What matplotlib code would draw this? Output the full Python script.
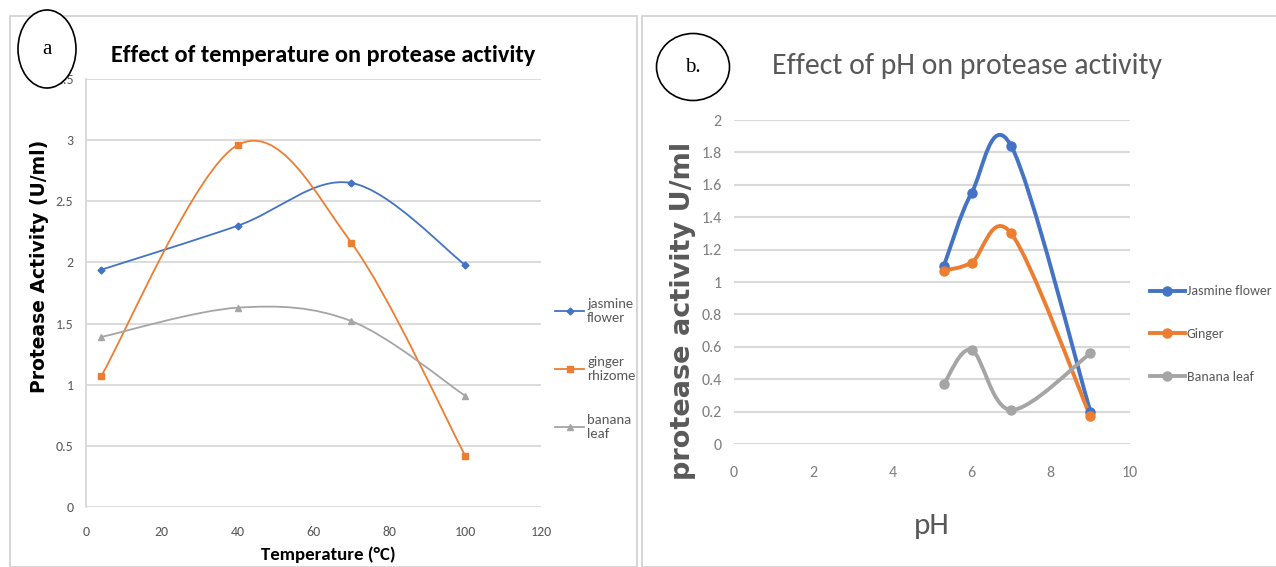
import matplotlib
matplotlib.use("Agg")
import matplotlib.pyplot as plt
from matplotlib.path import Path
from matplotlib.patches import PathPatch, Ellipse, Rectangle
from matplotlib.lines import Line2D

# panel a - temperature
temp = [4, 40, 70, 100]
temp_jasmine = [1.94, 2.30, 2.65, 1.98]
temp_ginger = [1.07, 2.96, 2.16, 0.42]
temp_banana = [1.39, 1.63, 1.52, 0.91]
temp_labels = ["jasmine\nflower", "ginger\nrhizome", "banana\nleaf"]

# panel b - pH
ph = [5.3, 6, 7, 9]
ph_jasmine = [1.10, 1.55, 1.84, 0.20]
ph_ginger = [1.07, 1.12, 1.30, 0.17]
ph_banana = [0.37, 0.58, 0.21, 0.56]
ph_labels = ["Jasmine flower", "Ginger", "Banana leaf"]

BLUE = "#4472C4"
ORANGE = "#ED7D31"
GRAY = "#A5A5A5"
TXT = "#595959"
GRID = "#D9D9D9"

CAL = ["Carlito", "DejaVu Sans"]

W, H = 1276, 567


def smooth(xs, ys):
    # excel style smoothed line as bezier segments
    pts = list(zip(xs, ys))
    n = len(pts)
    verts = [pts[0]]
    codes = [Path.MOVETO]
    for i in range(n - 1):
        p0 = pts[i - 1] if i > 0 else pts[i]
        p1 = pts[i]
        p2 = pts[i + 1]
        p3 = pts[i + 2] if i + 2 < n else pts[i + 1]
        c1 = (p1[0] + (p2[0] - p0[0]) / 6, p1[1] + (p2[1] - p0[1]) / 6)
        c2 = (p2[0] - (p3[0] - p1[0]) / 6, p2[1] - (p3[1] - p1[1]) / 6)
        verts += [c1, c2, p2]
        codes += [Path.CURVE4] * 3
    return Path(verts, codes)


def fx(px):
    return px / W


def fy(py):
    return 1 - py / H


fig = plt.figure(figsize=(W / 100, H / 100), dpi=100)

# panel borders
fig.add_artist(Rectangle((fx(10), 0), fx(627), fy(16), transform=fig.transFigure,
                         fill=False, ec="#D0D0D0", lw=1.2))
fig.add_artist(Rectangle((fx(642), 0), fx(640), fy(16), transform=fig.transFigure,
                         fill=False, ec="#D0D0D0", lw=1.2))

# ---------- panel a ----------
ax1 = fig.add_axes([fx(86), fy(507), fx(541 - 86), (507 - 79) / H])
series = [(temp_jasmine, BLUE, "D", 3.5), (temp_ginger, ORANGE, "s", 4),
          (temp_banana, GRAY, "^", 4)]
handles = []
for (vals, col, mk, ms), lab in zip(series, temp_labels):
    ax1.add_patch(PathPatch(smooth(temp, vals), fill=False, ec=col, lw=1.3, zorder=3))
    ax1.plot(temp, vals, ls="none", marker=mk, ms=ms, color=col, zorder=4)
    handles.append(Line2D([], [], color=col, lw=1.3, marker=mk, ms=ms, label=lab))
ax1.set_xlim(0, 120)
ax1.set_ylim(0, 3.5)
ax1.set_xticks(range(0, 121, 20))
ax1.set_yticks([0, 0.5, 1, 1.5, 2, 2.5, 3, 3.5])
ax1.set_yticklabels(["0", "0.5", "1", "1.5", "2", "2.5", "3", "3.5"])
ax1.grid(axis="y", color=GRID, lw=1.3)
ax1.set_axisbelow(True)
for s in ["top", "right", "bottom"]:
    ax1.spines[s].set_visible(False)
ax1.spines["left"].set_color(GRID)
ax1.spines["left"].set_linewidth(1.3)
ax1.tick_params(length=0, labelcolor=TXT, labelsize=10)
ax1.tick_params(axis="y", pad=9)
ax1.tick_params(axis="x", pad=14)
for t in ax1.get_xticklabels() + ax1.get_yticklabels():
    t.set_family(CAL)
leg1 = ax1.legend(handles=handles, loc="center left", frameon=False,
                  bbox_to_anchor=(fx(555), fy(369)), bbox_transform=fig.transFigure,
                  borderpad=0, borderaxespad=0, handlelength=2.0, handletextpad=0.2,
                  labelspacing=2.2, prop={"family": CAL, "size": 10.5})
for t in leg1.get_texts():
    t.set_color(TXT)

fig.text(fx(323), fy(56), "Effect of temperature on protease activity", ha="center",
         va="center", fontsize=17.5, fontweight="bold", family=CAL, color="black")
fig.text(fx(40), fy(266), "Protease Activity (U/ml)", rotation=90, ha="center",
         va="center", fontsize=13.5, fontweight="bold", color="black")
fig.text(fx(328), fy(555), "Temperature (\u00b0C)", ha="center", va="center",
         fontsize=13.5, fontweight="bold", family=CAL, color="black")

# ---------- panel b ----------
ax2 = fig.add_axes([fx(734), fy(444), fx(1130 - 734), (444 - 120) / H])
series = [(ph_jasmine, BLUE), (ph_ginger, ORANGE), (ph_banana, GRAY)]
handles = []
for (vals, col), lab in zip(series, ph_labels):
    ax2.add_patch(PathPatch(smooth(ph, vals), fill=False, ec=col, lw=2.8, zorder=3,
                            capstyle="round", joinstyle="round"))
    ax2.plot(ph, vals, ls="none", marker="o", ms=6.5, color=col, zorder=4)
    handles.append(Line2D([], [], color=col, lw=2.8, marker="o", ms=6.5, label=lab))
ax2.set_xlim(0, 10)
ax2.set_ylim(0, 2)
ax2.set_xticks(range(0, 11, 2))
ax2.set_yticks([0, 0.2, 0.4, 0.6, 0.8, 1, 1.2, 1.4, 1.6, 1.8, 2])
ax2.set_yticklabels(["0", "0.2", "0.4", "0.6", "0.8", "1", "1.2", "1.4", "1.6", "1.8", "2"])
ax2.grid(axis="y", color=GRID, lw=1.5)
ax2.set_axisbelow(True)
for s in ["top", "right", "bottom", "left"]:
    ax2.spines[s].set_visible(False)
ax2.tick_params(length=0, labelcolor="#7F7F7F", labelsize=11.5)
ax2.tick_params(axis="y", pad=9)
ax2.tick_params(axis="x", pad=16)
for t in ax2.get_xticklabels() + ax2.get_yticklabels():
    t.set_family(CAL)
leg2 = ax2.legend(handles=handles, loc="center left", frameon=False,
                  bbox_to_anchor=(fx(1150), fy(334)), bbox_transform=fig.transFigure,
                  borderpad=0, borderaxespad=0, handlelength=2.5, handletextpad=0.15,
                  labelspacing=2.2, prop={"family": CAL, "size": 10})
for t in leg2.get_texts():
    t.set_color(TXT)

fig.text(fx(967), fy(66), "Effect of pH on protease activity", ha="center", va="center",
         fontsize=21.5, family=CAL, color=TXT)
fig.text(fx(683), fy(311), "protease activity U/ml", rotation=90, ha="center",
         va="center", fontsize=19.5, fontweight="bold", color=TXT)
fig.text(fx(932), fy(526), "pH", ha="center", va="center", fontsize=22.5,
         family=CAL, color=TXT)

# panel letters
fig.add_artist(Ellipse((fx(47), fy(49)), fx(58), 78 / H, transform=fig.transFigure,
                       fc="white", ec="black", lw=1.2, zorder=5))
fig.text(fx(47), fy(50), "a", ha="center", va="center", fontsize=15,
         family="Liberation Serif", zorder=6)
fig.add_artist(Ellipse((fx(693), fy(67)), fx(73), 67 / H, transform=fig.transFigure,
                       fc="white", ec="black", lw=1.2, zorder=5))
fig.text(fx(693), fy(68), "b.", ha="center", va="center", fontsize=15,
         family="Liberation Serif", zorder=6)

fig.savefig("out.png", dpi=100)
